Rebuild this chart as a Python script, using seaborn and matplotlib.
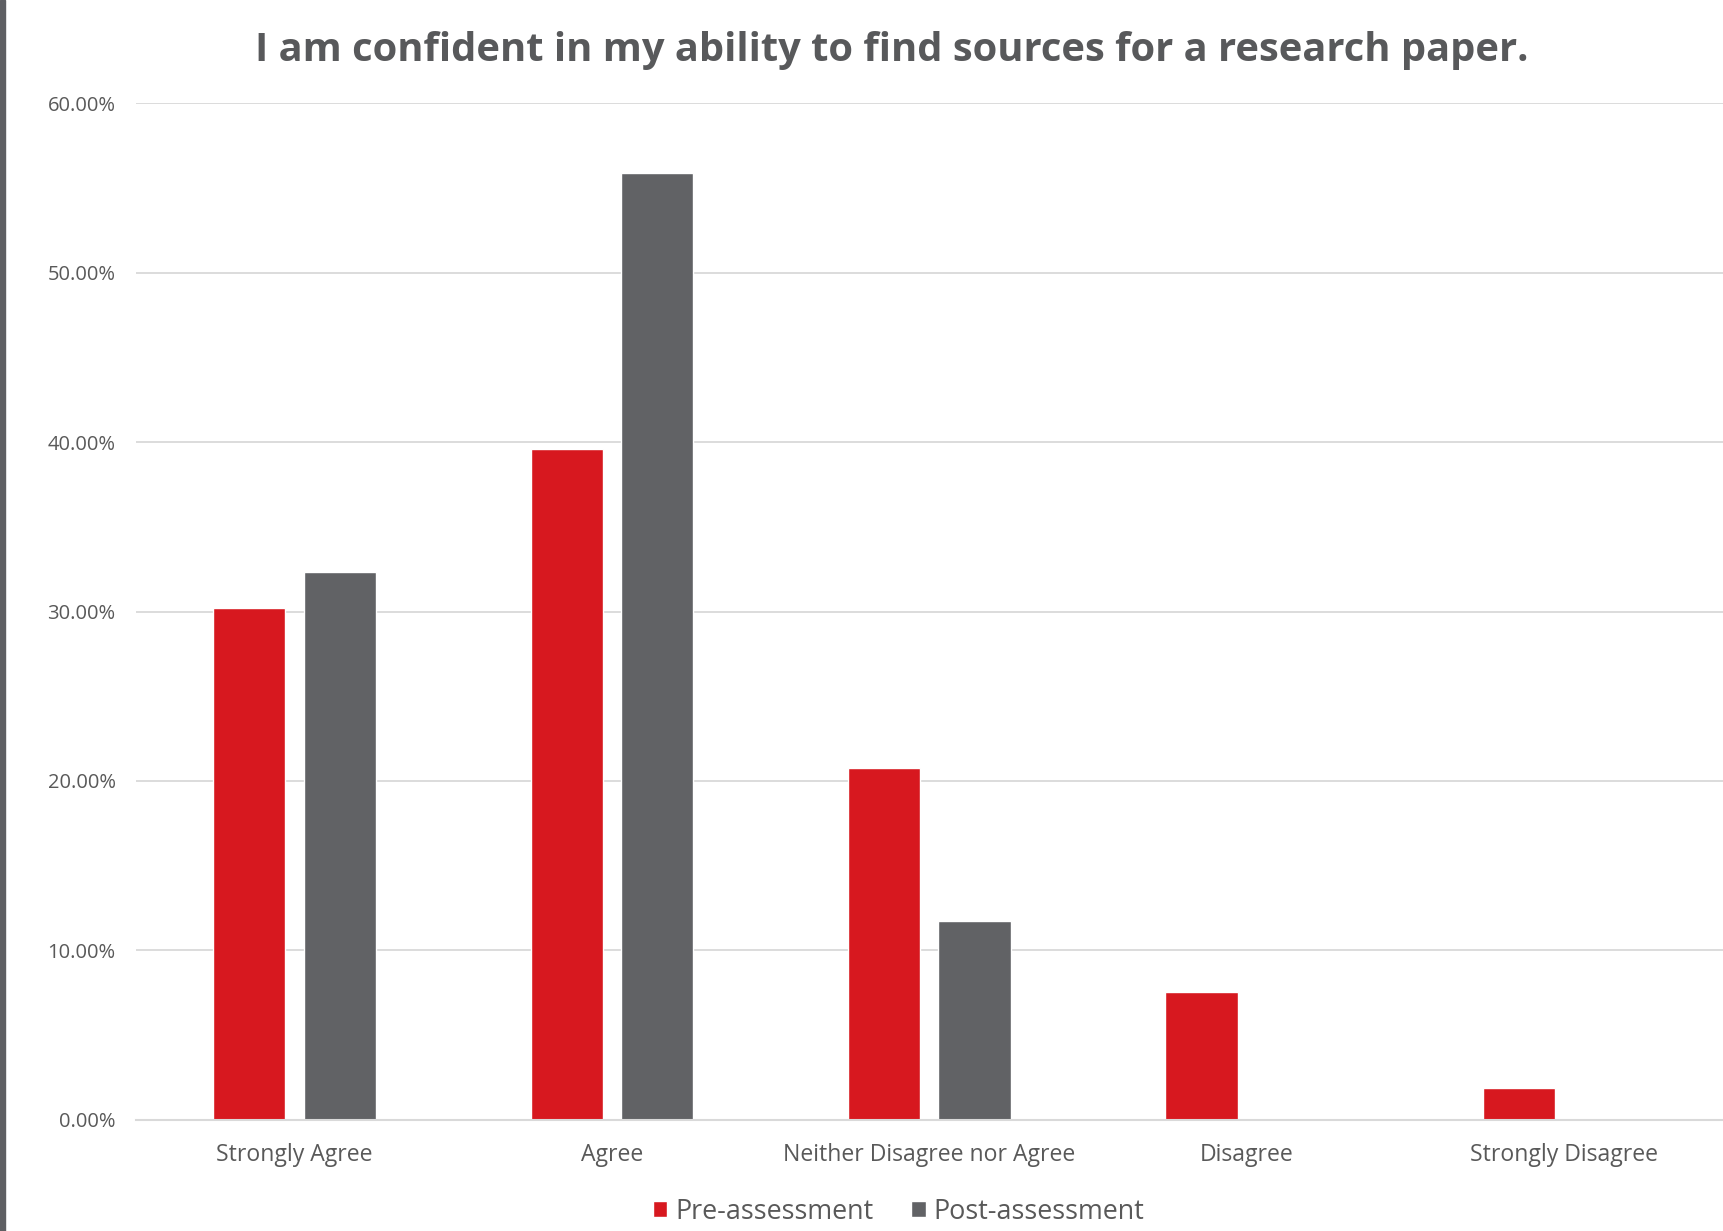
import matplotlib
matplotlib.use("Agg")
import matplotlib.pyplot as plt
from matplotlib.patches import Rectangle
from matplotlib.ticker import PercentFormatter, MultipleLocator
import seaborn as sns
import pandas as pd

# Survey responses (share of respondents)
responses = ["Strongly Agree", "Agree", "Neither Disagree nor Agree", "Disagree", "Strongly Disagree"]
pre_assessment = [0.3019, 0.3962, 0.2075, 0.0755, 0.0189]
post_assessment = [0.3235, 0.5588, 0.1176, 0.0, 0.0]
series_names = ["Pre-assessment", "Post-assessment"]
title = "I am confident in my ability to find sources for a research paper."

RED = "#D7181F"
GRAY = "#616265"
TEXT = "#595959"
GRID = "#D9D9D9"

df = pd.DataFrame({
    "Response": responses * 2,
    "Share": pre_assessment + post_assessment,
    "Survey": [series_names[0]] * len(responses) + [series_names[1]] * len(responses),
})

sns.set_theme(style="white")
plt.rcParams["font.family"] = ["Open Sans", "DejaVu Sans"]

fig = plt.figure(figsize=(17.23, 12.31), dpi=100)
ax = fig.add_axes([0.0788, 0.0903, 0.9212, 0.8258])

sns.barplot(data=df, x="Response", y="Share", hue="Survey",
            palette=[RED, GRAY], saturation=1, width=0.57, gap=0.2,
            ax=ax, legend=True)

ax.set_xlim(-0.5, len(responses) - 0.5)
ax.set_ylim(0, 0.6)
ax.yaxis.set_major_locator(MultipleLocator(0.1))
ax.yaxis.set_major_formatter(PercentFormatter(xmax=1, decimals=2))
ax.grid(axis="y", color=GRID, linewidth=1.3)
ax.set_axisbelow(True)
for side in ("top", "right", "left"):
    ax.spines[side].set_visible(False)
ax.spines["bottom"].set_color(GRID)
ax.spines["bottom"].set_linewidth(1.5)
ax.set_xlabel("")
ax.set_ylabel("")
ax.tick_params(axis="y", length=0, pad=14.5, labelsize=14.5, labelcolor=TEXT)
ax.tick_params(axis="x", length=0, pad=16.5, labelsize=16.6, labelcolor=TEXT)

handles, labels = ax.get_legend_handles_labels()
ax.get_legend().remove()
fig.legend(handles, labels, loc="center", bbox_to_anchor=(0.5215, 0.0155),
           ncol=2, frameon=False, fontsize=19.4, labelcolor=TEXT,
           handlelength=0.53, handleheight=0.53, handletextpad=0.28,
           columnspacing=1.42, borderaxespad=0)

fig.text(0.5177, 0.959, title, ha="center", va="center",
         fontsize=28.7, fontweight="bold", color="#58595B")

# dark strip along the left edge
fig.patches.append(Rectangle((0, 0), 5 / 1723, 1, transform=fig.transFigure,
                             color="#5E5F63", zorder=10))

fig.savefig("out.png", dpi=100, facecolor="white")
